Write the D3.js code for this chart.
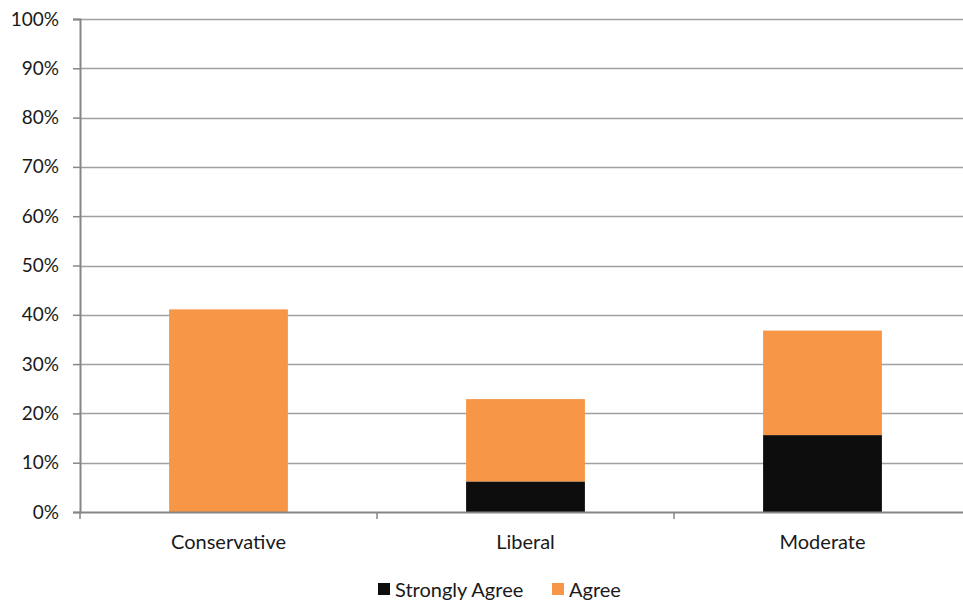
<!DOCTYPE html>
<html>
<head>
<meta charset="utf-8">
<script src="https://cdn.jsdelivr.net/npm/d3@7"></script>
<style>
  html, body { margin: 0; padding: 0; background: #fff; overflow: hidden; }
  text { font-family: Lato, "Open Sans", sans-serif; fill: #1a1a1a; }
</style>
</head>
<body>
<svg id="chart" width="963" height="600"></svg>
<script>
const categories = ["Conservative", "Liberal", "Moderate"];
const seriesNames = ["Strongly Agree", "Agree"];
const stronglyAgree = [0, 0.062, 0.156];
const agree = [0.411, 0.167, 0.212];
const yTicks = [0, 0.1, 0.2, 0.3, 0.4, 0.5, 0.6, 0.7, 0.8, 0.9, 1.0];
const colors = ["#0d0d0d", "#F79646"];

(function () {
const svg = d3.select("#chart");
const mLeft = 80, mRight = 971, mTop = 19, mBottom = 512;

const x = d3.scaleBand().domain(categories).range([mLeft, mRight]).padding(0);
const y = d3.scaleLinear().domain([0, 1]).range([mBottom, mTop]);

// gridlines
svg.append("g").selectAll("line").data(yTicks.filter(d => d > 0)).join("line")
  .attr("x1", mLeft).attr("x2", mRight)
  .attr("y1", d => Math.round(y(d)) + 0.5).attr("y2", d => Math.round(y(d)) + 0.5)
  .attr("stroke", "#a0a0a0").attr("stroke-width", 1.5);

// stacked data
const rows = categories.map((c, i) => ({ cat: c, "Strongly Agree": stronglyAgree[i], "Agree": agree[i] }));
const stack = d3.stack().keys(seriesNames)(rows);
const barW = x.bandwidth() * 0.4;

svg.append("g").selectAll("g").data(stack).join("g")
  .attr("fill", (d, i) => colors[i])
  .selectAll("rect").data(d => d).join("rect")
  .attr("x", d => x(d.data.cat) + (x.bandwidth() - barW) / 2)
  .attr("width", barW)
  .attr("y", d => y(d[1]))
  .attr("height", d => Math.max(0, y(d[0]) - y(d[1])));

// y axis
const yAxis = d3.axisLeft(y).tickValues(yTicks).tickFormat(d3.format(".0%")).tickSize(7).tickPadding(14);
const gy = svg.append("g").attr("transform", `translate(${mLeft},0)`).call(yAxis);
gy.select(".domain").attr("stroke", "#868686").attr("stroke-width", 2);
gy.selectAll(".tick line").attr("stroke", "#868686").attr("stroke-width", 1.5);
gy.selectAll(".tick text").attr("font-size", 19).attr("fill", "#1a1a1a")
  .style("font-family", "Lato, 'Open Sans', sans-serif");

// x axis
const xAxis = d3.axisBottom(x).tickSize(0).tickPadding(23);
const gx = svg.append("g").attr("transform", `translate(0,${mBottom})`).call(xAxis);
gx.select(".domain").attr("stroke", "#868686").attr("stroke-width", 2);
gx.selectAll(".tick text").attr("font-size", 20).attr("fill", "#1a1a1a")
  .style("font-family", "Lato, 'Open Sans', sans-serif");
const bounds = categories.map(c => x(c));
gx.append("g").selectAll("line").data(bounds).join("line")
  .attr("x1", d => d).attr("x2", d => d)
  .attr("y1", 0).attr("y2", 7)
  .attr("stroke", "#868686").attr("stroke-width", 1.5);

// legend
const legendItems = [
  { name: seriesNames[0], color: colors[0], x: 378 },
  { name: seriesNames[1], color: colors[1], x: 552 }
];
const lg = svg.append("g");
legendItems.forEach(it => {
  lg.append("rect").attr("x", it.x).attr("y", 583).attr("width", 12).attr("height", 12).attr("fill", it.color);
  lg.append("text").attr("x", it.x + 17).attr("y", 597).attr("font-size", 20).text(it.name);
});
})();
</script>
</body>
</html>
